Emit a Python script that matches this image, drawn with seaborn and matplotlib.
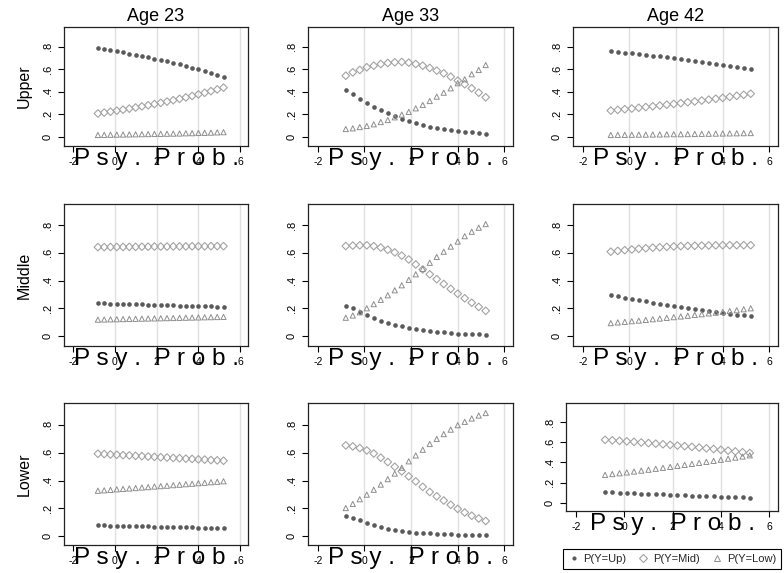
import numpy as np
import pandas as pd
import matplotlib
matplotlib.use("Agg")
import matplotlib.pyplot as plt
import seaborn as sns
from matplotlib.lines import Line2D

sns.set_theme(style="white")
plt.rcParams["font.family"] = ["Liberation Sans", "DejaVu Sans"]

# ---------------- data ----------------
psy_prob = [-0.8, -0.5, -0.2, 0.1, 0.4, 0.7, 1.0, 1.3, 1.6, 1.9, 2.2,
            2.5, 2.8, 3.1, 3.4, 3.7, 4.0, 4.3, 4.6, 4.9, 5.2]

ages = ["Age 23", "Age 33", "Age 42"]
classes = ["Upper", "Middle", "Lower"]
series_labels = ["P(Y=Up)", "P(Y=Mid)", "P(Y=Low)"]

# Upper
upper_23_up = [0.788, 0.779, 0.769, 0.759, 0.749, 0.739, 0.728, 0.717, 0.706, 0.694, 0.682,
               0.669, 0.656, 0.642, 0.628, 0.613, 0.598, 0.582, 0.566, 0.549, 0.532]
upper_23_mid = [0.206, 0.214, 0.222, 0.231, 0.240, 0.249, 0.259, 0.269, 0.279, 0.290, 0.301,
                0.312, 0.324, 0.336, 0.349, 0.362, 0.376, 0.390, 0.405, 0.420, 0.436]
upper_23_low = [0.015, 0.016, 0.017, 0.018, 0.019, 0.020, 0.021, 0.022, 0.023, 0.024, 0.025,
                0.026, 0.027, 0.028, 0.030, 0.031, 0.033, 0.034, 0.036, 0.038, 0.040]

upper_33_up = [0.415, 0.377, 0.338, 0.302, 0.267, 0.237, 0.213, 0.184, 0.160, 0.142, 0.120,
               0.104, 0.090, 0.080, 0.072, 0.061, 0.052, 0.045, 0.038, 0.032, 0.026]
upper_33_mid = [0.542, 0.572, 0.593, 0.617, 0.631, 0.646, 0.655, 0.661, 0.664, 0.658, 0.646,
                0.631, 0.611, 0.587, 0.563, 0.533, 0.498, 0.466, 0.430, 0.391, 0.350]
upper_33_low = [0.068, 0.074, 0.085, 0.095, 0.110, 0.130, 0.148, 0.172, 0.196, 0.220, 0.252,
                0.282, 0.317, 0.356, 0.391, 0.430, 0.475, 0.510, 0.555, 0.593, 0.637]

upper_42_up = [0.760, 0.753, 0.747, 0.741, 0.735, 0.728, 0.721, 0.714, 0.707, 0.700, 0.692,
               0.684, 0.676, 0.668, 0.659, 0.650, 0.641, 0.632, 0.622, 0.612, 0.600]
upper_42_mid = [0.232, 0.238, 0.244, 0.250, 0.257, 0.263, 0.270, 0.277, 0.284, 0.291, 0.298,
                0.306, 0.313, 0.321, 0.329, 0.337, 0.345, 0.354, 0.363, 0.372, 0.382]
upper_42_low = [0.015, 0.016, 0.016, 0.017, 0.018, 0.018, 0.019, 0.020, 0.021, 0.022, 0.022,
                0.023, 0.024, 0.025, 0.026, 0.027, 0.028, 0.029, 0.030, 0.031, 0.032]

# Middle
middle_23_up = [0.237, 0.236, 0.234, 0.233, 0.232, 0.230, 0.229, 0.228, 0.226, 0.225, 0.224,
                0.222, 0.221, 0.220, 0.218, 0.217, 0.216, 0.215, 0.213, 0.212, 0.211]
middle_23_mid = [0.641, 0.641, 0.642, 0.642, 0.642, 0.643, 0.643, 0.644, 0.644, 0.645, 0.645,
                 0.645, 0.646, 0.646, 0.646, 0.647, 0.647, 0.647, 0.648, 0.648, 0.648]
middle_23_low = [0.118, 0.119, 0.120, 0.121, 0.122, 0.123, 0.124, 0.125, 0.126, 0.127, 0.128,
                 0.129, 0.130, 0.131, 0.132, 0.133, 0.134, 0.135, 0.136, 0.137, 0.138]

middle_33_up = [0.219, 0.200, 0.176, 0.148, 0.127, 0.109, 0.095, 0.082, 0.069, 0.057, 0.049,
                0.042, 0.036, 0.031, 0.026, 0.022, 0.018, 0.015, 0.013, 0.011, 0.008]
middle_33_mid = [0.649, 0.652, 0.654, 0.654, 0.648, 0.638, 0.622, 0.603, 0.580, 0.552, 0.516,
                 0.480, 0.445, 0.410, 0.375, 0.340, 0.305, 0.272, 0.240, 0.210, 0.182]
middle_33_low = [0.132, 0.148, 0.171, 0.200, 0.230, 0.261, 0.294, 0.330, 0.366, 0.405, 0.445,
                 0.484, 0.528, 0.570, 0.608, 0.645, 0.681, 0.720, 0.752, 0.781, 0.807]

middle_42_up = [0.295, 0.285, 0.277, 0.268, 0.259, 0.249, 0.240, 0.232, 0.224, 0.216, 0.208,
                0.201, 0.194, 0.187, 0.180, 0.174, 0.168, 0.161, 0.155, 0.148, 0.141]
middle_42_mid = [0.608, 0.614, 0.619, 0.624, 0.629, 0.633, 0.637, 0.640, 0.643, 0.646, 0.648,
                 0.650, 0.651, 0.652, 0.653, 0.654, 0.655, 0.655, 0.655, 0.655, 0.655]
middle_42_low = [0.093, 0.098, 0.102, 0.107, 0.111, 0.116, 0.121, 0.126, 0.131, 0.136, 0.141,
                 0.146, 0.152, 0.157, 0.163, 0.168, 0.174, 0.180, 0.186, 0.193, 0.200]

# Lower
lower_23_up = [0.079, 0.078, 0.077, 0.076, 0.075, 0.074, 0.073, 0.072, 0.071, 0.070, 0.069,
               0.068, 0.067, 0.066, 0.065, 0.064, 0.063, 0.062, 0.061, 0.060, 0.059]
lower_23_mid = [0.592, 0.590, 0.587, 0.585, 0.582, 0.580, 0.577, 0.575, 0.572, 0.570, 0.567,
                0.565, 0.562, 0.560, 0.557, 0.555, 0.552, 0.550, 0.547, 0.545, 0.542]
lower_23_low = [0.327, 0.330, 0.333, 0.337, 0.340, 0.343, 0.346, 0.350, 0.353, 0.357, 0.360,
                0.363, 0.367, 0.370, 0.374, 0.377, 0.381, 0.384, 0.388, 0.391, 0.395]

lower_33_up = [0.148, 0.128, 0.114, 0.094, 0.080, 0.066, 0.056, 0.046, 0.039, 0.032, 0.027,
               0.024, 0.021, 0.019, 0.017, 0.014, 0.012, 0.010, 0.009, 0.008, 0.007]
lower_33_mid = [0.652, 0.645, 0.633, 0.616, 0.594, 0.564, 0.533, 0.499, 0.466, 0.430, 0.394,
                0.355, 0.318, 0.287, 0.257, 0.226, 0.197, 0.171, 0.148, 0.128, 0.110]
lower_33_low = [0.203, 0.232, 0.266, 0.299, 0.334, 0.371, 0.410, 0.450, 0.492, 0.538, 0.580,
                0.621, 0.662, 0.698, 0.733, 0.765, 0.797, 0.821, 0.845, 0.866, 0.884]

lower_42_up = [0.106, 0.102, 0.099, 0.096, 0.093, 0.090, 0.087, 0.084, 0.081, 0.078, 0.075,
               0.072, 0.070, 0.067, 0.065, 0.062, 0.060, 0.058, 0.055, 0.053, 0.051]
lower_42_mid = [0.624, 0.619, 0.614, 0.609, 0.604, 0.598, 0.592, 0.586, 0.580, 0.574, 0.567,
                0.561, 0.554, 0.547, 0.540, 0.533, 0.525, 0.517, 0.509, 0.501, 0.493]
lower_42_low = [0.276, 0.284, 0.292, 0.300, 0.309, 0.318, 0.327, 0.336, 0.346, 0.355, 0.365,
                0.375, 0.385, 0.395, 0.405, 0.415, 0.426, 0.437, 0.447, 0.458, 0.470]

xtick_vals = [-2, 0, 2, 4, 6]
xtick_labels = ["-2", "0", "2", "4", "6"]
ytick_vals = [0, 0.2, 0.4, 0.6, 0.8]
ytick_labels = ["0", ".2", ".4", ".6", ".8"]

panels = {
    ("Upper", "Age 23"): (upper_23_up, upper_23_mid, upper_23_low),
    ("Upper", "Age 33"): (upper_33_up, upper_33_mid, upper_33_low),
    ("Upper", "Age 42"): (upper_42_up, upper_42_mid, upper_42_low),
    ("Middle", "Age 23"): (middle_23_up, middle_23_mid, middle_23_low),
    ("Middle", "Age 33"): (middle_33_up, middle_33_mid, middle_33_low),
    ("Middle", "Age 42"): (middle_42_up, middle_42_mid, middle_42_low),
    ("Lower", "Age 23"): (lower_23_up, lower_23_mid, lower_23_low),
    ("Lower", "Age 33"): (lower_33_up, lower_33_mid, lower_33_low),
    ("Lower", "Age 42"): (lower_42_up, lower_42_mid, lower_42_low),
}

rows = []
for (cls, age), vals in panels.items():
    for lab, v in zip(series_labels, vals):
        for xx, yy in zip(psy_prob, v):
            rows.append({"cls": cls, "age": age, "series": lab, "x": xx, "p": yy})
df = pd.DataFrame(rows)

# ---------------- layout ----------------
W, H = 784, 573
fig = plt.figure(figsize=(W / 100, H / 100), dpi=100)
fig.patch.set_facecolor("white")

col_lr = {"Age 23": (64, 248), "Age 33": (308, 513), "Age 42": (573, 778)}
row_tb = {"Upper": (27, 146), "Middle": (204, 346), "Lower": (403, 545)}
row_ylim = {"Upper": (-0.083, 0.975), "Middle": (-0.072, 0.952), "Lower": (-0.062, 0.956)}

c_up, c_mid, c_low = "#5a5a5a", "#a3a3a3", "#8e8e8e"


def add_ax(l, t, r, b):
    return fig.add_axes([l / W, 1 - b / H, (r - l) / W, (b - t) / H])


for cls in classes:
    for age in ages:
        l, r = col_lr[age]
        t, b = row_tb[cls]
        ylim = row_ylim[cls]
        if cls == "Lower" and age == "Age 42":
            l, b = 566, 511
            ylim = (-0.083, 0.99)
        ax = add_ax(l, t, r, b)
        ax.set_facecolor("white")
        for gv in [0, 2, 4, 6]:
            ax.axvline(gv, color="#e0e0e0", lw=1.0, zorder=0)
        sub = df[(df.cls == cls) & (df.age == age)]
        d_up = sub[sub.series == "P(Y=Up)"]
        d_mid = sub[sub.series == "P(Y=Mid)"]
        d_low = sub[sub.series == "P(Y=Low)"]
        sns.scatterplot(data=d_up, x="x", y="p", ax=ax, color=c_up, marker="o",
                        s=11, linewidth=0, legend=False, zorder=3)
        sns.scatterplot(data=d_mid, x="x", y="p", ax=ax, color=c_mid, marker="D",
                        s=15, facecolor="none", edgecolor=c_mid, linewidth=0.8,
                        legend=False, zorder=3)
        sns.scatterplot(data=d_low, x="x", y="p", ax=ax, color=c_low, marker="^",
                        s=14, facecolor="none", edgecolor=c_low, linewidth=0.7,
                        legend=False, zorder=3)
        ax.set_xlim(-2.42, 6.37)
        ax.set_ylim(*ylim)
        ax.set_xticks(xtick_vals)
        ax.set_xticklabels(xtick_labels, fontsize=7.5)
        ax.set_yticks(ytick_vals)
        ax.set_yticklabels(ytick_labels, fontsize=8, rotation=90, va="center")
        ax.tick_params(axis="both", direction="out", length=4, width=0.8,
                       colors="black", left=True, bottom=True, pad=4)
        for sp in ax.spines.values():
            sp.set_color("#222222")
            sp.set_linewidth(0.9)
        ax.set_xlabel("")
        ax.set_ylabel("")
        ax.annotate("P s y .  P r o b .", xy=(0.5, 0), xycoords="axes fraction",
                    xytext=(0, -9.5), textcoords="offset points",
                    ha="center", va="center", fontsize=17.5, color="black")

for age in ages:
    l, r = col_lr[age]
    fig.text((l + r) / 2 / W, 1 - 16.5 / H, age, ha="center", va="center",
             fontsize=13, color="black")

for cls in classes:
    t, b = row_tb[cls]
    fig.text(24 / W, 1 - (t + b) / 2 / H, cls, rotation=90, ha="center",
             va="center", fontsize=11.5, color="black")

handles = [
    Line2D([], [], linestyle="none", marker="o", markersize=3, color=c_up,
           markeredgewidth=0),
    Line2D([], [], linestyle="none", marker="D", markersize=3.8, markerfacecolor="none",
           markeredgecolor=c_mid, markeredgewidth=0.8),
    Line2D([], [], linestyle="none", marker="^", markersize=4, markerfacecolor="none",
           markeredgecolor=c_low, markeredgewidth=0.7),
]
leg = fig.legend(handles, series_labels, loc="center",
                 bbox_to_anchor=(672 / W, 1 - 558.5 / H), ncol=3, fontsize=8,
                 frameon=True, fancybox=False, edgecolor="black", framealpha=1,
                 handlelength=1.0, handletextpad=0.4, columnspacing=1.0,
                 borderpad=0.45)
leg.get_frame().set_linewidth(0.8)

fig.savefig("out.png", dpi=100, facecolor="white")
